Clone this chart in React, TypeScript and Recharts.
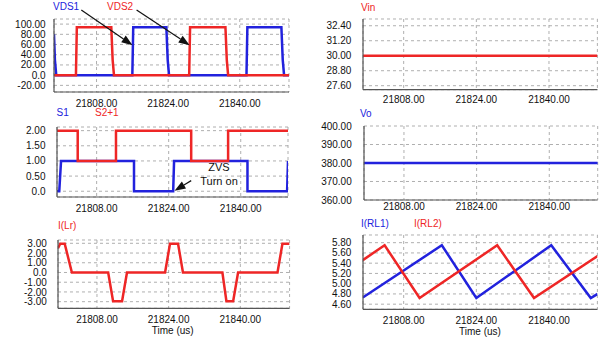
import React from "react"
import { CartesianGrid, Line, LineChart, ReferenceLine, XAxis, YAxis } from "recharts"

const FONT = "'Liberation Sans', Arial, sans-serif"
const RED = "#ee2626"
const BLUE = "#2222dd"

const xTicks = [21808, 21824, 21840]

// [time (us), value]
const vds1 = [
  [21798.5, 80], [21798.7, 30], [21799.0, 0], [21816.0, 0], [21816.2, 94], [21823.6, 94],
  [21823.9, 30], [21824.2, 0], [21841.5, 0], [21841.7, 94], [21849.3, 94], [21849.6, 30],
  [21849.9, 0], [21851.0, 0],
]
const vds2 = [
  [21798.5, 0], [21803.4, 0], [21803.6, 94], [21811.3, 94], [21811.6, 30], [21811.9, 0],
  [21828.7, 0], [21828.9, 94], [21836.8, 94], [21837.1, 30], [21837.4, 0], [21851.0, 0],
]
const s1 = [
  [21799.2, 0], [21799.7, 0], [21800.1, 1], [21816.3, 1], [21816.3, 0], [21825.0, 0],
  [21825.2, 1], [21841.5, 1], [21841.5, 0], [21850.3, 0], [21850.5, 1],
]
const s2p1 = [
  [21799.2, 2], [21803.8, 2], [21803.8, 1], [21812.3, 1], [21812.3, 2], [21829.0, 2],
  [21829.0, 1], [21837.2, 1], [21837.2, 2], [21850.5, 2],
]
const iLr = [
  [21799.3, 2.5], [21799.8, 2.95], [21800.8, 2.95], [21802.4, 0], [21810.5, 0], [21811.6, -2.95],
  [21813.6, -2.95], [21814.7, 0], [21823.2, 0], [21824.3, 2.95], [21826.1, 2.95], [21827.2, 0],
  [21836.0, 0], [21836.9, -2.95], [21838.4, -2.95], [21839.5, 0], [21848.3, 0], [21849.4, 2.95],
  [21851.0, 2.95],
]
const vin = [[21799.0, 30], [21850.7, 30]]
const vo = [[21799.2, 380], [21850.7, 380]]
const iRL1 = [
  [21799.0, 4.73], [21816.4, 5.75], [21824.0, 4.72], [21840.5, 5.75], [21849.2, 4.72], [21850.7, 4.8],
]
const iRL2 = [
  [21799.0, 5.46], [21803.8, 5.75], [21811.5, 4.72], [21828.6, 5.75], [21836.7, 4.72], [21850.7, 5.54],
]

const pts = (a: number[][]) => a.map(([t, v]) => ({ t, v }))
const fmtY = (v: number) => (v === 0 ? "0.0" : v.toFixed(2))
const fmtX = (v: number) => v.toFixed(2)

type Box = { x0: number; x1: number; y0: number; y1: number }

const Arrow = (p: any) => {
  const { x1, y1, x2, y2 } = p
  const a = Math.atan2(y2 - y1, x2 - x1)
  const c = Math.cos(a)
  const s = Math.sin(a)
  const bx = x2 - 11 * c
  const by = y2 - 11 * s
  return (
    <g>
      <line x1={x1} y1={y1} x2={bx} y2={by} stroke="#111" strokeWidth={1.2} />
      <polygon
        points={`${x2},${y2} ${bx - 4 * s},${by + 4 * c} ${bx + 4 * s},${by - 4 * c}`}
        fill="#111"
      />
    </g>
  )
}

function Panel(props: {
  box: Box
  labelEdge: number
  xGap: number
  xDomain: number[]
  yDomain: number[]
  yTicks: number[]
  series: { data: number[][]; color: string }[]
  children?: React.ReactNode
}) {
  const { box, labelEdge, xGap, xDomain, yDomain, yTicks, series, children } = props
  const yw = 50
  const mt = 20
  const mr = 2
  const xh = 22
  const width = yw + (box.x1 - box.x0) + mr
  const height = mt + (box.y1 - box.y0) + xh
  return (
    <div style={{ position: "absolute", left: box.x0 - yw, top: box.y0 - mt }}>
      <LineChart width={width} height={height} margin={{ top: mt, right: mr, bottom: 0, left: 0 }}>
        <CartesianGrid stroke="#9a9a9a" strokeDasharray="3 3" strokeWidth={0.8} />
        <XAxis
          dataKey="t"
          type="number"
          domain={xDomain}
          ticks={xTicks}
          interval={0}
          allowDataOverflow
          tickFormatter={fmtX}
          height={xh}
          tickSize={0}
          tickMargin={xGap}
          axisLine={{ stroke: "#555", strokeWidth: 1.2 }}
          tick={{ fill: "#111", fontSize: 10, fontFamily: FONT }}
        />
        <XAxis xAxisId="top" orientation="top" height={0} tick={false} tickLine={false}
          axisLine={{ stroke: "#555", strokeWidth: 1.2 }} />
        <YAxis
          type="number"
          domain={yDomain}
          ticks={yTicks}
          interval={0}
          allowDataOverflow
          tickFormatter={fmtY}
          width={yw}
          tickSize={0}
          tickMargin={box.x0 - labelEdge}
          axisLine={{ stroke: "#555", strokeWidth: 1.2 }}
          tick={{ fill: "#111", fontSize: 10, fontFamily: FONT }}
        />
        <YAxis yAxisId="r" orientation="right" width={0} tick={false} tickLine={false}
          axisLine={{ stroke: "#555", strokeWidth: 1.2 }} />
        {series.map((s, i) => (
          <Line
            key={i}
            data={pts(s.data)}
            dataKey="v"
            type="linear"
            stroke={s.color}
            strokeWidth={2.5}
            dot={false}
            activeDot={false}
            isAnimationActive={false}
          />
        ))}
        {children}
      </LineChart>
    </div>
  )
}

const Label = ({ x, y, text, color, center }: { x: number; y: number; text: string; color: string; center?: boolean }) => (
  <div
    style={{
      position: "absolute",
      left: x,
      top: y - 5,
      fontFamily: FONT,
      fontSize: 10,
      lineHeight: "10px",
      color,
      whiteSpace: "nowrap",
      transform: center ? "translateX(-50%)" : undefined,
    }}
  >
    {text}
  </div>
)

export default function App() {
  return (
    <div style={{ position: "absolute", left: 0, top: 0, width: 609, height: 338, background: "#fff", overflow: "hidden" }}>
      <Panel
        box={{ x0: 54.3, x1: 289.3, y0: 19, y1: 92 }}
        labelEdge={46}
        xGap={7.4}
        xDomain={[21798.5, 21851]}
        yDomain={[-33, 110]}
        yTicks={[-20, 0, 20, 40, 60, 80, 100]}
        series={[{ data: vds1, color: BLUE }, { data: vds2, color: RED }]}
      >
        <ReferenceLine segment={[{ x: 21804.6, y: 127.5 }, { x: 21816.05, y: 58.8 }]} ifOverflow="visible" shape={Arrow} />
        <ReferenceLine segment={[{ x: 21816.95, y: 127.5 }, { x: 21828.8, y: 58.8 }]} ifOverflow="visible" shape={Arrow} />
      </Panel>
      <Panel
        box={{ x0: 57, x1: 288, y0: 127, y1: 197 }}
        labelEdge={45.5}
        xGap={7.4}
        xDomain={[21799.2, 21850.5]}
        yDomain={[-0.19, 2.12]}
        yTicks={[0, 0.5, 1, 1.5, 2]}
        series={[{ data: s1, color: BLUE }, { data: s2p1, color: RED }]}
      >
        <ReferenceLine segment={[{ x: 21829.0, y: 0.35 }, { x: 21825.3, y: 0.02 }]} ifOverflow="visible" shape={Arrow} />
      </Panel>
      <Panel
        box={{ x0: 57.7, x1: 289.3, y0: 240, y1: 308.3 }}
        labelEdge={46.5}
        xGap={7.4}
        xDomain={[21799.3, 21851]}
        yDomain={[-3.68, 3.34]}
        yTicks={[-3, -2, -1, 0, 1, 2, 3]}
        series={[{ data: iLr, color: RED }]}
      />
      <Panel
        box={{ x0: 363.3, x1: 597.7, y0: 19.3, y1: 90 }}
        labelEdge={351.7}
        xGap={6.4}
        xDomain={[21799.04, 21850.66]}
        yDomain={[27.28, 32.94]}
        yTicks={[27.6, 28.8, 30, 31.2, 32.4]}
        series={[{ data: vin, color: RED }]}
      />
      <Panel
        box={{ x0: 364, x1: 597.7, y0: 125.5, y1: 199.5 }}
        labelEdge={351.7}
        xGap={3.4}
        xDomain={[21799.2, 21850.66]}
        yDomain={[360, 400]}
        yTicks={[360, 370, 380, 390, 400]}
        series={[{ data: vo, color: BLUE }]}
      />
      <Panel
        box={{ x0: 363.3, x1: 597.7, y0: 235, y1: 309.3 }}
        labelEdge={351.7}
        xGap={7.4}
        xDomain={[21799.04, 21850.66]}
        yDomain={[4.5, 5.95]}
        yTicks={[4.6, 4.8, 5.0, 5.2, 5.4, 5.6, 5.8]}
        series={[{ data: iRL1, color: BLUE }, { data: iRL2, color: RED }]}
      />

      <Label x={53} y={6.5} text="VDS1" color={BLUE} />
      <Label x={107} y={6.5} text="VDS2" color={RED} />
      <Label x={56.5} y={113.3} text="S1" color={BLUE} />
      <Label x={95} y={113.3} text="S2+1" color={RED} />
      <Label x={58} y={226} text="I(Lr)" color={RED} />
      <Label x={361} y={7.5} text="Vin" color={RED} />
      <Label x={360} y={114} text="Vo" color={BLUE} />
      <Label x={361} y={224} text="I(RL1)" color={BLUE} />
      <Label x={414} y={224} text="I(RL2)" color={RED} />
      <Label x={172.7} y={331} text="Time (us)" color="#111" center />
      <Label x={480} y={332} text="Time (us)" color="#111" center />
      <div style={{ position: "absolute", left: 219, top: 160, transform: "translateX(-50%)", fontFamily: FONT, fontSize: 11, lineHeight: "14px", color: "#111", textAlign: "center", whiteSpace: "nowrap" }}>
        ZVS
        <br />
        Turn on
      </div>
    </div>
  )
}
